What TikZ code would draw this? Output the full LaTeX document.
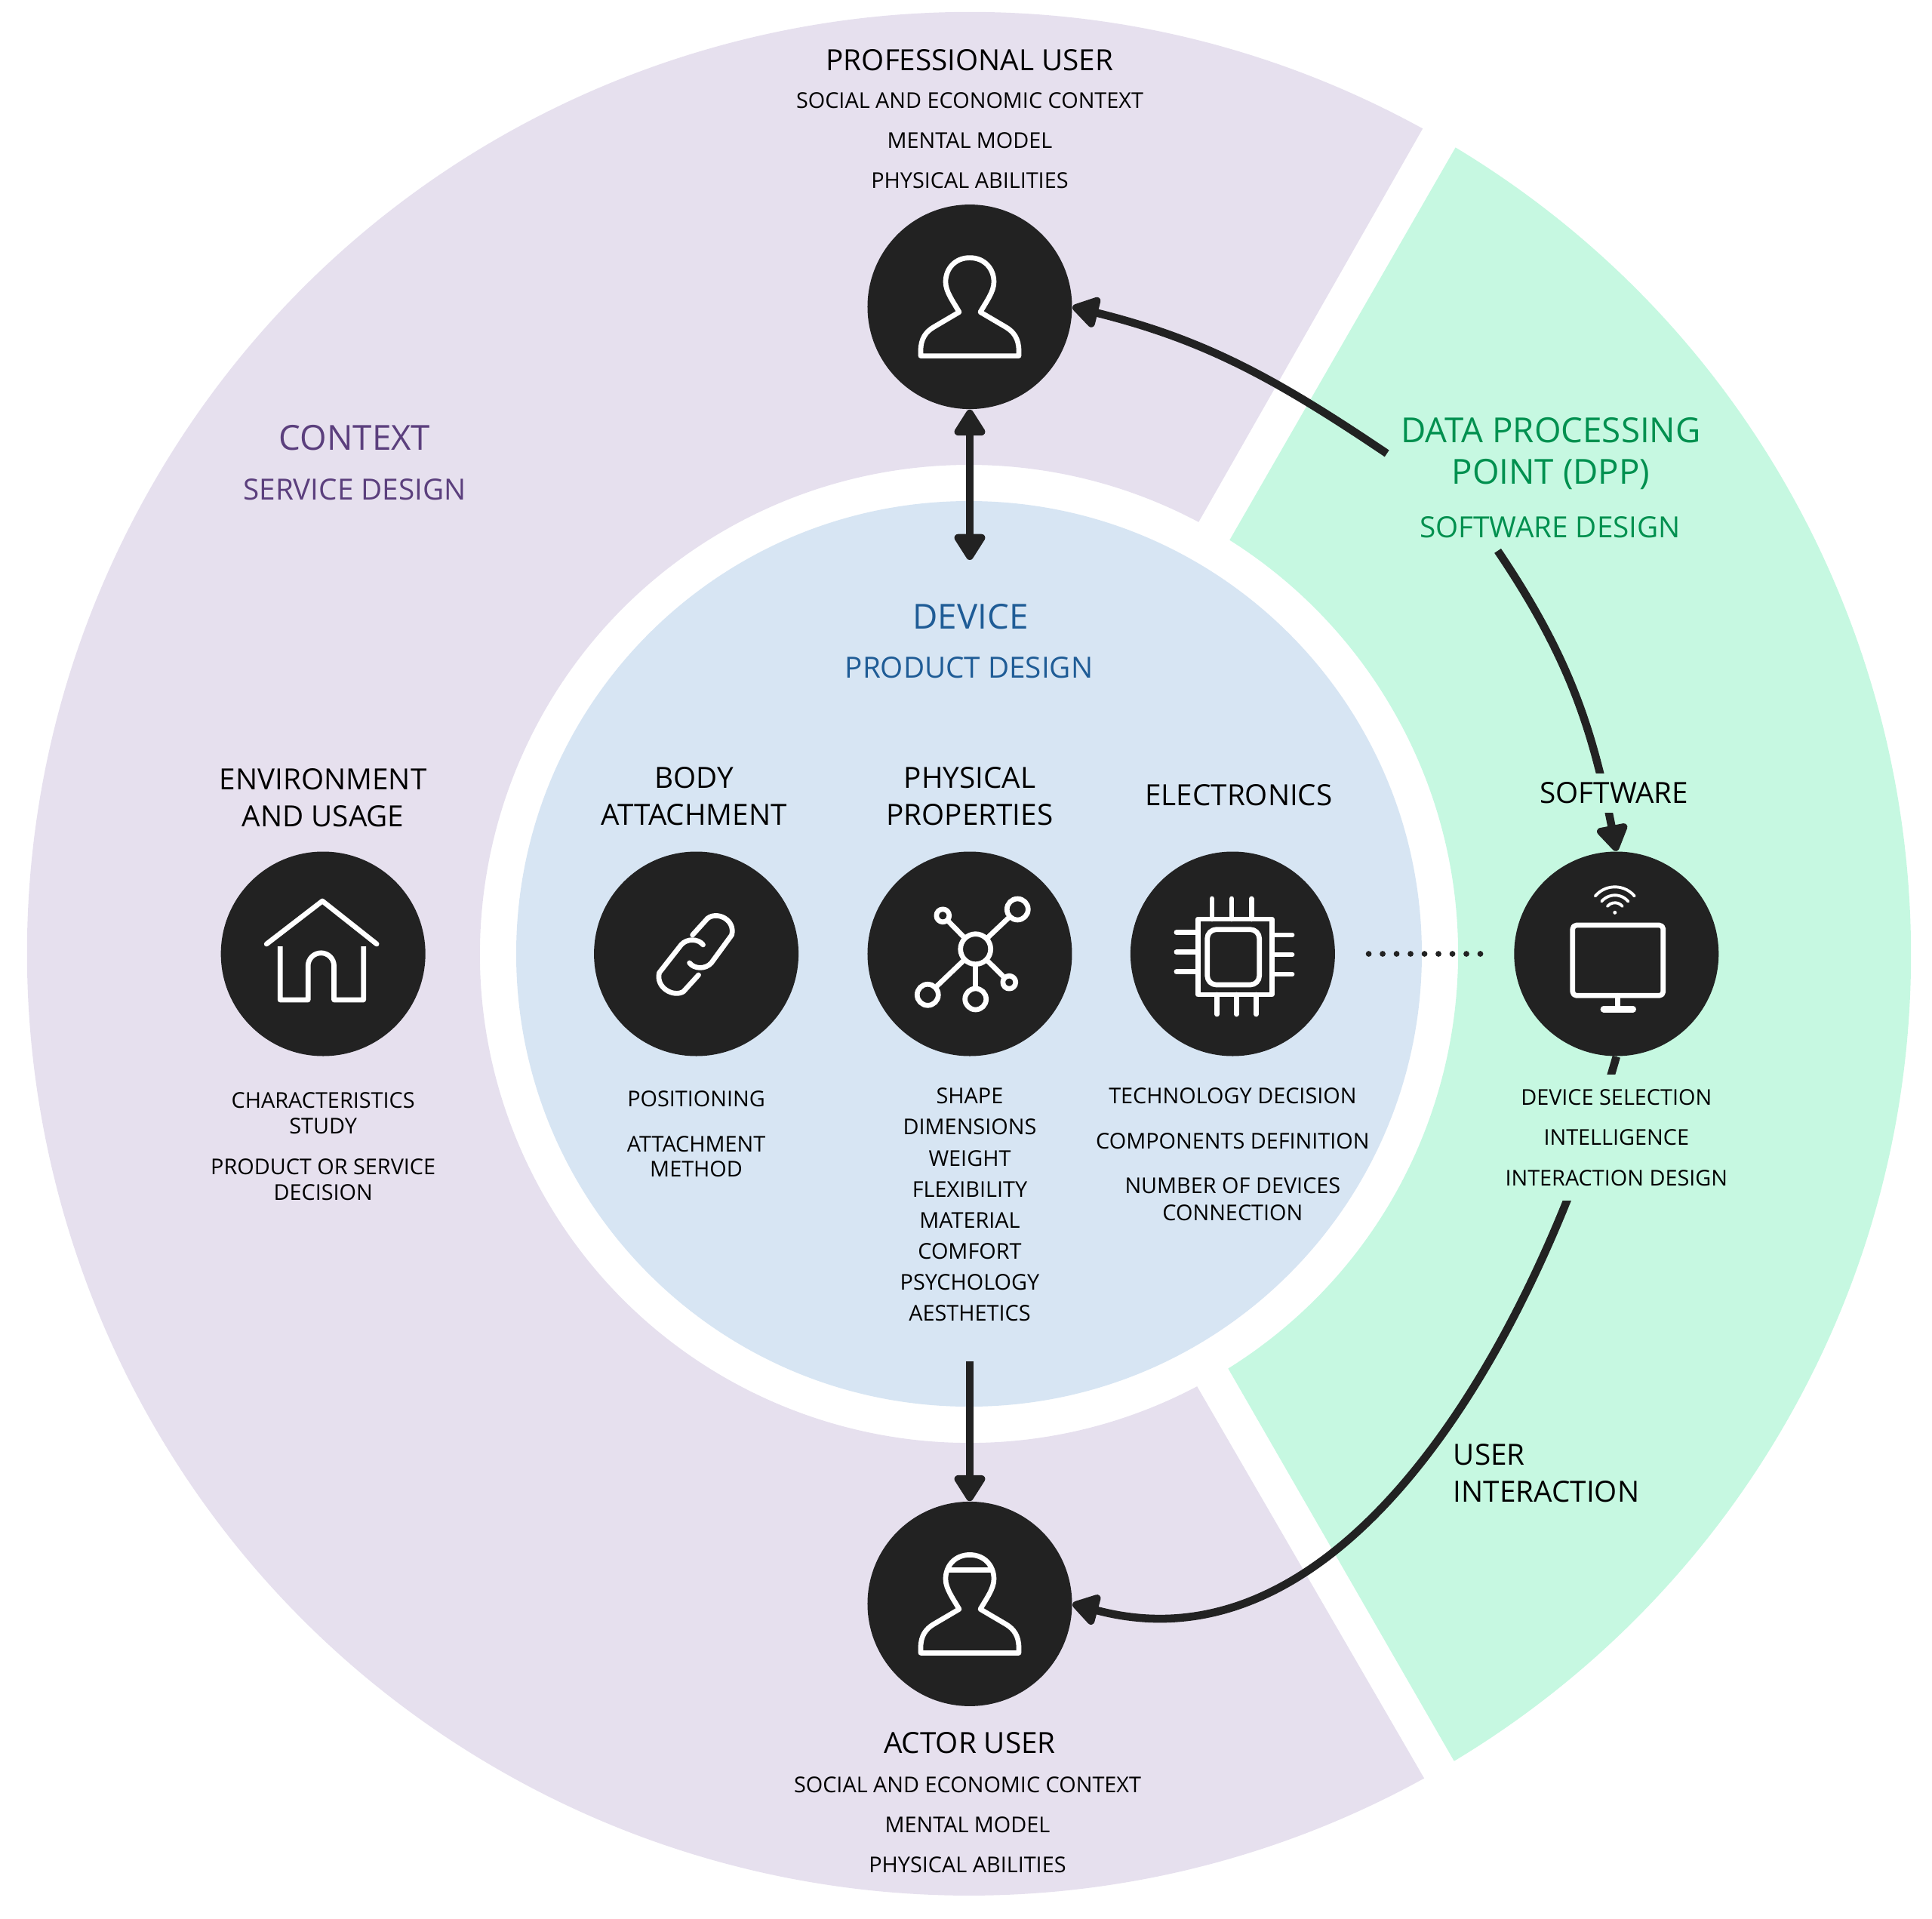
\documentclass[tikz,border=0pt]{standalone}
\usepackage{fontspec}
\setmainfont{Open Sans}
\usepackage{xcolor}
\usetikzlibrary{arrows.meta,positioning,calc}
\definecolor{ctxPurple}{HTML}{5B3F7D}
\definecolor{ctxPurpleBg}{HTML}{E6E0EE}
\definecolor{dppGreen}{HTML}{00904F}
\definecolor{dppGreenBg}{HTML}{C6F8E1}
\definecolor{devBlue}{HTML}{1F5C96}
\definecolor{devBlueBg}{HTML}{D7E5F3}
\definecolor{hubDark}{HTML}{222222}
\tikzset{
  hub/.style={circle, fill=hubDark, minimum size=2.71cm, inner sep=0pt},
  icono/.style={draw=white, line width=1.9pt, line join=round, line cap=round},
  titulo/.style={align=center, inner sep=0pt, text=black, font=\fontsize{11}{13.9}\selectfont},
  lista/.style={align=center, inner sep=0pt, text=black, font=\fontsize{8.2}{11.7}\selectfont},
  lema/.style={align=center, inner sep=0pt, font=\fontsize{13}{15.8}\selectfont},
  sublema/.style={align=center, inner sep=0pt, font=\fontsize{11}{14}\selectfont},
  arrflow/.style={-{Triangle[length=3.9mm,width=4.6mm,round]}, line width=3pt, draw=hubDark},
  usuario/.pic={
    \draw[icono] (0,.65) .. controls (.2,.65) and (.32,.5) .. (.32,.33) .. controls (.32,.2) and (.22,.07) .. (.14,-.07) -- (.48,-.27) .. controls (.58,-.33) and (.65,-.42) .. (.65,-.58) -- (.65,-.65) -- (-.65,-.65) -- (-.65,-.58) .. controls (-.65,-.42) and (-.58,-.33) .. (-.48,-.27) -- (-.14,-.07) .. controls (-.22,.07) and (-.32,.2) .. (-.32,.33) .. controls (-.32,.5) and (-.2,.65) .. (0,.65) -- cycle;
  },
}
\begin{document}
\begin{tikzpicture}[node distance=3mm]
\useasboundingbox (-12.84,-12.78) rectangle (12.76,12.64);
\fill[ctxPurpleBg] (61.2:12.48) arc[start angle=61.2, end angle=298.9, radius=12.48] -- (297.8:6.48) arc[start angle=297.8, end angle=62, radius=6.48] -- cycle;
\fill[dppGreenBg] (58.9:12.48) arc[start angle=58.9, end angle=-59, radius=12.48] -- (-58:6.48) arc[start angle=-58, end angle=57.8, radius=6.48] -- cycle;
\fill[devBlueBg] (0,0) circle (6);

\node[hub] (physical) at (0.01,0) {};
\node[hub, left=.9cm of physical] (body) {};
\node[hub, right=.76cm of physical] (electronics) {};
\node[hub, left=2.22cm of body] (environment) {};
\node[hub, right=2.36cm of electronics] (screen) {};
\node[hub, above=5.85cm of physical] (pro) {};
\node[hub, below=5.89cm of physical] (actor) {};

\pic at (pro) {usuario};
\pic at (actor) {usuario};
\draw[icono] ($(actor)+(-.27,.45)$) -- ($(actor)+(.27,.45)$);

\begin{scope}[shift={(environment)}]
\draw[icono] (-.75,.13) -- (-.01,.7) -- (.71,.13);
\draw[icono, line cap=butt] (-.57,.1) -- (-.57,-.61) -- (-.2,-.61) -- (-.2,-.16) arc[start angle=180, end angle=0, radius=.172] -- (.144,-.61) -- (.535,-.61) -- (.535,.1);
\end{scope}

\begin{scope}[shift={(body)}]
\draw[icono] (-.05,.25) -- (.15,.47) .. controls (.28,.57) and (.52,.45) .. (.47,.25) -- (.2,-.12) .. controls (.12,-.21) and (-.03,-.2) .. (-.09,-.12);
\draw[icono] (.03,-.28) -- (-.17,-.5) .. controls (-.3,-.58) and (-.54,-.45) .. (-.49,-.25) -- (-.2,.12) .. controls (-.12,.21) and (.03,.2) .. (.09,.12);
\end{scope}

\begin{scope}[shift={(physical)}]
\node[circle, icono, minimum size=.4cm, inner sep=0pt] (redhub) at (.077,.063) {};
\foreach \i/\x/\y/\r in {1/.633/.59/.28, 2/-.557/-.543/.28, 3/.077/-.6/.28, 4/-.357/.507/.17, 5/.523/-.377/.17} {
  \node[circle, icono, minimum size=\r cm, inner sep=0pt] (red\i) at (\x,\y) {};
  \draw[icono] (redhub) -- (red\i);
}
\end{scope}

\begin{scope}[shift={(electronics)}]
\draw[icono] (-.46,-.54) rectangle (.52,.46);
\draw[icono, rounded corners=1.2mm] (-.337,-.41) rectangle (.353,.323);
\foreach \x in {-.275,-.013,.248} \draw[icono] (\x,.46) -- (\x,.73);
\foreach \x in {-.207,.05,.31} \draw[icono] (\x,-.54) -- (\x,-.8);
\foreach \y in {.283,.023,-.237} \draw[icono] (-.46,\y) -- (-.745,\y);
\foreach \y in {.25,-.01,-.27} \draw[icono] (.52,\y) -- (.787,\y);
\end{scope}

\begin{scope}[shift={(screen)}]
\draw[icono, rounded corners=.5mm] (-.58,-.553) rectangle (.62,.38);
\draw[icono] (.02,-.553) -- (.02,-.73);
\draw[icono, line width=2.4pt] (-.17,-.733) -- (.22,-.733);
\foreach \r in {.13,.23,.34} \draw[icono, line width=1.1pt] (-.02,.547) ++(40:\r) arc[start angle=40, end angle=140, radius=\r];
\fill[white] (-.02,.547) circle (.025);
\end{scope}

\node[lema, text=dppGreen, inner xsep=.18cm] (dpp) at (7.71,6.63) {DATA PROCESSING\\POINT (DPP)};
\node[sublema, text=dppGreen, inner ysep=.16cm] (dppsub) at (7.70,5.65) {SOFTWARE DESIGN};

\coordinate (devtip) at (0.01,5.22);
\coordinate (devtail) at (0.01,-5.4);
\draw[arrflow, {Triangle[length=3.9mm,width=4.6mm,round]}-{Triangle[length=3.9mm,width=4.6mm,round]}] (pro.south) -- (devtip);
\draw[arrflow] (devtail) -- (actor.north);
\draw[arrflow] (dpp.west) to[out=146, in=-14] (pro.east);
\draw[arrflow] (dppsub.-156) to[out=-56, in=101] (screen.north);
\draw[arrflow] (screen.south) to[out=-106, in=-15, looseness=.95] (actor.east);
\draw[hubDark, line width=2.2pt, line cap=round, dash pattern=on 0pt off 5.26pt, shorten <=.44cm, shorten >=.28cm] (electronics.east) -- (screen.west);

\node[lema, text=ctxPurple] (ctx) at (-8.14,6.84) {CONTEXT};
\node[sublema, text=ctxPurple] (ctxsub) at (-8.14,6.155) {SERVICE DESIGN};
\node[lema, text=devBlue] (dev) at (0.02,4.47) {DEVICE};
\node[sublema, text=devBlue] (devsub) at (0,3.79) {PRODUCT DESIGN};

\node[titulo, above=.31cm of environment] (envtit) {ENVIRONMENT\\AND USAGE};
\node[titulo, above=.33cm of body, xshift=-.03cm] (bodytit) {BODY\\ATTACHMENT};
\node[titulo, above=.33cm of physical] (phytit) {PHYSICAL\\PROPERTIES};
\node[titulo, above=.59cm of electronics, xshift=.08cm] (elctit) {ELECTRONICS};
\node[titulo, fill=dppGreenBg, inner ysep=.12cm, above=.5cm of screen, xshift=-.03cm] (softit) {SOFTWARE};

\node[lista, below=.465cm of environment] (envtxt) {CHARACTERISTICS\\[-.07cm]STUDY\\[.126cm]PRODUCT OR SERVICE\\[-.07cm]DECISION};
\node[lista, below=.45cm of body] (bodytxt) {POSITIONING\\[.19cm]ATTACHMENT\\[-.085cm]METHOD};
\node[lista, below=.41cm of physical] (phytxt) {SHAPE\\DIMENSIONS\\WEIGHT\\FLEXIBILITY\\MATERIAL\\COMFORT\\PSYCHOLOGY\\AESTHETICS};
\node[lista, below=.41cm of electronics] (elctxt) {TECHNOLOGY DECISION\\[.19cm]COMPONENTS DEFINITION\\[.175cm]NUMBER OF DEVICES\\[-.055cm]CONNECTION};
\node[lista, fill=dppGreenBg, inner ysep=.2cm, below=.23cm of screen] (softxt) {DEVICE SELECTION\\[.12cm]INTELLIGENCE\\[.12cm]INTERACTION DESIGN};

\node[lista, above=.2cm of pro] (protxt) {SOCIAL AND ECONOMIC CONTEXT\\[.12cm]MENTAL MODEL\\[.12cm]PHYSICAL ABILITIES};
\node[titulo, above=.27cm of protxt] (protit) {PROFESSIONAL USER};
\node[titulo, below=.33cm of actor] (acttit) {ACTOR USER};
\node[lista, below=.29cm of acttit, xshift=-.03cm] (acttxt) {SOCIAL AND ECONOMIC CONTEXT\\[.12cm]MENTAL MODEL\\[.12cm]PHYSICAL ABILITIES};

\node[titulo, align=left] (usrtxt) at (7.65,-6.88) {USER\\INTERACTION};
\end{tikzpicture}
\end{document}
